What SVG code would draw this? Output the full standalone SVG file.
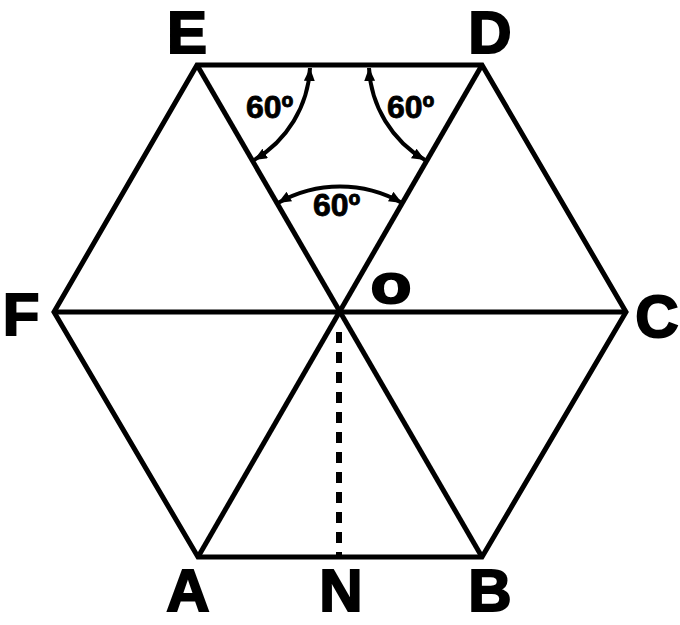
<svg xmlns="http://www.w3.org/2000/svg" width="680" height="625" viewBox="0 0 680 625">
<style>
.ln{stroke:#000;stroke-width:5;fill:none;stroke-linejoin:miter;stroke-linecap:butt}
.arc{stroke:#000;stroke-width:4;fill:none;marker-start:url(#ah);marker-end:url(#ah)}
.lbl{font-family:"Liberation Sans",Arial,sans-serif;font-weight:bold;font-size:60px;fill:#000;stroke:#000;stroke-width:2;text-anchor:middle}
.ang{font-family:"Liberation Sans",Arial,sans-serif;font-weight:bold;font-size:32px;fill:#000;stroke:#000;stroke-width:0.8}
</style>
<defs>
<marker id="ah" viewBox="0 0 13 11" refX="13" refY="5.5" markerWidth="13" markerHeight="11" markerUnits="userSpaceOnUse" orient="auto-start-reverse">
<path d="M0,0 L13,5.5 L0,11 z" fill="#000"/>
</marker>
</defs>
<rect width="680" height="625" fill="#fff"/>
<g id="connectors">
<polygon class="ln" points="197,65 482,65 626,312 482,557 198,557 54,312"/>
<line class="ln" x1="197" y1="65" x2="482" y2="557"/>
<line class="ln" x1="482" y1="65" x2="198" y2="557"/>
<line class="ln" x1="54" y1="312" x2="626" y2="312"/>
<line x1="339" y1="332" x2="339" y2="555" stroke="#000" stroke-width="6" stroke-dasharray="11,9"/>
<path class="arc" d="M310,68 A113,113 0 0 1 254,160"/>
<path class="arc" d="M369,68 A113,113 0 0 0 425,160"/>
<path class="arc" d="M278,203 A125,125 0 0 1 402,203"/>
</g>
<g id="E"><text class="lbl" x="187" y="53">E</text></g>
<g id="D"><text class="lbl" x="490" y="53">D</text></g>
<g id="F"><text class="lbl" x="21" y="335">F</text></g>
<g id="C"><text class="lbl" x="657" y="337">C</text></g>
<g id="A"><text class="lbl" x="188" y="611">A</text></g>
<g id="N"><text class="lbl" x="341" y="611">N</text></g>
<g id="B"><text class="lbl" x="490" y="611">B</text></g>
<g id="O"><text class="lbl" transform="translate(391,303) scale(1.2,1)" x="0" y="0" style="font-size:56px">o</text></g>
<g id="angle1"><text class="ang" x="246" y="118">60º</text></g>
<g id="angle2"><text class="ang" x="387" y="118">60º</text></g>
<g id="angle3"><text class="ang" x="313" y="216">60º</text></g>
</svg>
